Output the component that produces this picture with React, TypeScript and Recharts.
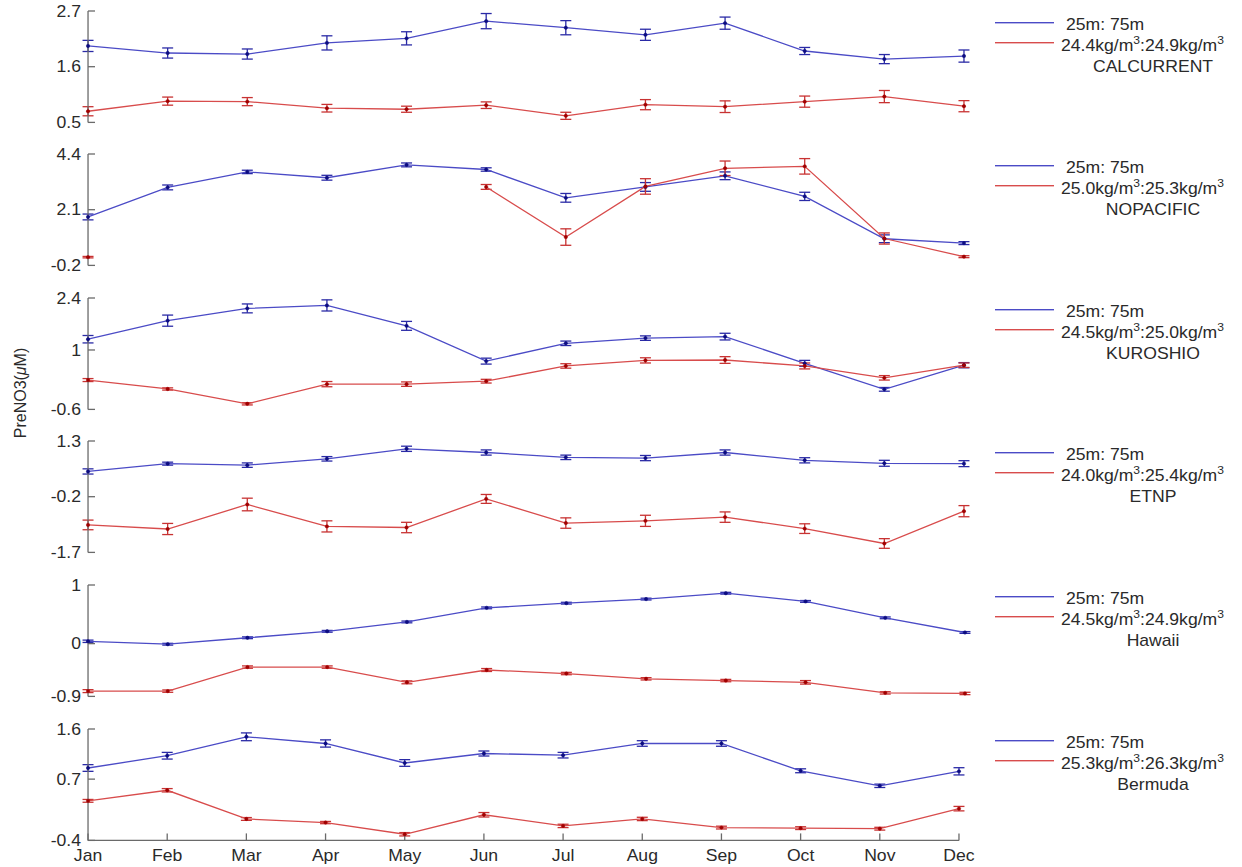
import React from 'react';
import { LineChart, Line, XAxis, YAxis, ErrorBar } from 'recharts';

// ---------- data ----------
const months = ['Jan', 'Feb', 'Mar', 'Apr', 'May', 'Jun', 'Jul', 'Aug', 'Sep', 'Oct', 'Nov', 'Dec'];

const stationNames = ['CALCURRENT', 'NOPACIFIC', 'KUROSHIO', 'ETNP', 'Hawaii', 'Bermuda'];
const depthLabel = '25m: 75m';
const densityRanges = [
  ['24.4', '24.9'],
  ['25.0', '25.3'],
  ['24.5', '25.0'],
  ['24.0', '25.4'],
  ['24.5', '24.9'],
  ['25.3', '26.3'],
];
const yLabel = 'PreNO3(';
const yLabelUnit = 'M)';

const calTicks = [0.5, 1.6, 2.7];
const calBlue = [2.01, 1.87, 1.85, 2.07, 2.16, 2.5, 2.37, 2.23, 2.46, 1.91, 1.75, 1.81];
const calBlueErr = [0.11, 0.1, 0.1, 0.14, 0.13, 0.15, 0.14, 0.11, 0.12, 0.07, 0.09, 0.12];
const calRed = [0.72, 0.92, 0.91, 0.78, 0.76, 0.84, 0.63, 0.85, 0.81, 0.91, 1.01, 0.82];
const calRedErr = [0.09, 0.08, 0.08, 0.075, 0.06, 0.065, 0.07, 0.1, 0.115, 0.11, 0.12, 0.11];

const nopTicks = [-0.2, 2.1, 4.4];
const nopBlue = [1.8, 3.02, 3.66, 3.42, 3.95, 3.76, 2.59, 3.04, 3.5, 2.65, 0.9, 0.72];
const nopBlueErr = [0.12, 0.1, 0.07, 0.1, 0.08, 0.07, 0.18, 0.18, 0.16, 0.17, 0.16, 0.06];
const nopRed = [0.14, null, null, null, null, 3.04, 0.97, 3.06, 3.81, 3.89, 0.91, 0.16];
const nopRedErr = [0.03, null, null, null, null, 0.1, 0.34, 0.32, 0.3, 0.32, 0.23, 0.04];

const kurTicks = [-0.6, 1, 2.4];
const kurBlue = [1.29, 1.79, 2.12, 2.2, 1.65, 0.7, 1.18, 1.32, 1.36, 0.64, -0.06, 0.59];
const kurBlueErr = [0.1, 0.15, 0.12, 0.15, 0.12, 0.08, 0.06, 0.06, 0.09, 0.08, 0.05, 0.07];
const kurRed = [0.19, -0.05, -0.45, 0.08, 0.08, 0.16, 0.57, 0.72, 0.73, 0.57, 0.25, 0.59];
const kurRedErr = [0.04, 0.03, 0.03, 0.07, 0.06, 0.05, 0.06, 0.07, 0.09, 0.08, 0.06, 0.06];

const etnTicks = [-1.7, -0.2, 1.3];
const etnBlue = [0.48, 0.69, 0.65, 0.82, 1.09, 0.99, 0.86, 0.84, 0.99, 0.78, 0.7, 0.69];
const etnBlueErr = [0.07, 0.04, 0.06, 0.06, 0.07, 0.07, 0.06, 0.07, 0.07, 0.07, 0.08, 0.08];
const etnRed = [-0.96, -1.07, -0.41, -1.0, -1.03, -0.26, -0.91, -0.85, -0.75, -1.06, -1.46, -0.59];
const etnRedErr = [0.13, 0.15, 0.17, 0.15, 0.14, 0.12, 0.14, 0.15, 0.14, 0.13, 0.13, 0.15];

const hawTicks = [-0.9, 0, 1];
const hawBlue = [0.04, -0.01, 0.1, 0.21, 0.37, 0.61, 0.69, 0.76, 0.86, 0.72, 0.44, 0.19];
const hawBlueErr = [0.02, 0.015, 0.015, 0.015, 0.015, 0.015, 0.015, 0.015, 0.015, 0.015, 0.015, 0.015];
const hawRed = [-0.81, -0.81, -0.4, -0.4, -0.66, -0.45, -0.51, -0.6, -0.63, -0.66, -0.84, -0.85];
const hawRedErr = [0.025, 0.02, 0.02, 0.02, 0.025, 0.025, 0.02, 0.02, 0.02, 0.03, 0.02, 0.02];

const berTicks = [-0.4, 0.7, 1.6];
const berBlue = [0.9, 1.12, 1.46, 1.34, 0.99, 1.16, 1.13, 1.34, 1.34, 0.85, 0.58, 0.84];
const berBlueErr = [0.06, 0.06, 0.07, 0.065, 0.06, 0.045, 0.05, 0.05, 0.05, 0.035, 0.03, 0.065];
const berRed = [0.31, 0.5, -0.015, -0.08, -0.29, 0.06, -0.14, -0.015, -0.17, -0.18, -0.19, 0.17];
const berRedErr = [0.025, 0.03, 0.025, 0.02, 0.03, 0.04, 0.03, 0.03, 0.025, 0.025, 0.025, 0.04];

// ---------- layout / style ----------
const FONT = '"Liberation Sans", Arial, Helvetica, sans-serif';
const BLUE_LINE = '#4b4bc6';
const BLUE_BAR = '#2a2aa6';
const BLUE_DOT = '#0c0c80';
const RED_LINE = '#d84c4c';
const RED_BAR = '#c83232';
const RED_DOT = '#a00000';
const AXIS = '#6a6a6a';
const TEXT = '#2a2a2a';
const STRETCH = 1.1;

const PLOT_LEFT = 88;
const PLOT_H = 111.4;
const PANEL_TOPS = [10.7, 154.3, 298, 441.4, 584.5, 728.7];
const PLOT_RIGHTS = [964, 964, 964, 964, 965, 959];

const panels = [
  { blue: calBlue, blueErr: calBlueErr, red: calRed, redErr: calRedErr, ticks: calTicks },
  { blue: nopBlue, blueErr: nopBlueErr, red: nopRed, redErr: nopRedErr, ticks: nopTicks },
  { blue: kurBlue, blueErr: kurBlueErr, red: kurRed, redErr: kurRedErr, ticks: kurTicks },
  { blue: etnBlue, blueErr: etnBlueErr, red: etnRed, redErr: etnRedErr, ticks: etnTicks },
  { blue: hawBlue, blueErr: hawBlueErr, red: hawRed, redErr: hawRedErr, ticks: hawTicks },
  { blue: berBlue, blueErr: berBlueErr, red: berRed, redErr: berRedErr, ticks: berTicks },
];

const YTick = (props: any) => {
  const { x, y, payload } = props;
  return (
    <text
      transform={`translate(${x},${y}) scale(${STRETCH},1)`}
      textAnchor="end"
      dy="0.36em"
      fontSize={16}
      fontFamily={FONT}
      fill={TEXT}
    >
      {String(payload.value)}
    </text>
  );
};

const XTick = (props: any) => {
  const { x, y, payload } = props;
  return (
    <text
      transform={`translate(${x},${y}) scale(${STRETCH},1)`}
      textAnchor="middle"
      dy="0.71em"
      fontSize={16}
      fontFamily={FONT}
      fill={TEXT}
    >
      {payload.value}
    </text>
  );
};

function Panel({ index }: { index: number }) {
  const p = panels[index];
  const isLast = index === panels.length - 1;
  const rows = months.map((m, i) => ({
    month: m,
    blue: p.blue[i],
    blueErr: p.blueErr[i],
    red: p.red[i],
    redErr: p.redErr[i],
  }));
  const mTop = 10;
  const mBottom = isLast ? 0 : 10;
  const mRight = 30;
  const xH = isLast ? 30 : 0;
  const height = mTop + PLOT_H + mBottom + xH;
  const width = PLOT_RIGHTS[index] + mRight;
  return (
    <div style={{ position: 'absolute', left: 0, top: PANEL_TOPS[index] - mTop }}>
      <LineChart width={width} height={height} data={rows} margin={{ top: mTop, right: mRight, bottom: mBottom, left: 0 }}>
        <XAxis
          dataKey="month"
          hide={!isLast}
          height={30}
          interval={0}
          tickSize={-7}
          tickMargin={16}
          axisLine={{ stroke: AXIS, strokeWidth: 1.3 }}
          tickLine={{ stroke: AXIS, strokeWidth: 1.3 }}
          tick={<XTick />}
        />
        <YAxis
          type="number"
          width={PLOT_LEFT}
          domain={[p.ticks[0], p.ticks[p.ticks.length - 1]]}
          ticks={p.ticks}
          allowDataOverflow
          interval={0}
          tickSize={-7}
          tickMargin={14}
          axisLine={{ stroke: AXIS, strokeWidth: 1.3 }}
          tickLine={{ stroke: AXIS, strokeWidth: 1.3 }}
          tick={<YTick />}
        />
        <Line
          type="linear"
          dataKey="blue"
          stroke={BLUE_LINE}
          strokeWidth={1.3}
          dot={{ r: 1.7, fill: BLUE_DOT, stroke: BLUE_DOT, strokeWidth: 0.5 }}
          activeDot={false}
          isAnimationActive={false}
        >
          <ErrorBar dataKey="blueErr" direction="y" width={5.5} stroke={BLUE_BAR} strokeWidth={1.3} isAnimationActive={false} />
        </Line>
        <Line
          type="linear"
          dataKey="red"
          stroke={RED_LINE}
          strokeWidth={1.3}
          dot={{ r: 1.7, fill: RED_DOT, stroke: RED_DOT, strokeWidth: 0.5 }}
          activeDot={false}
          isAnimationActive={false}
        >
          <ErrorBar dataKey="redErr" direction="y" width={5.5} stroke={RED_BAR} strokeWidth={1.3} isAnimationActive={false} />
        </Line>
      </LineChart>
    </div>
  );
}

function Overlay() {
  return (
    <svg
      width={1242}
      height={867}
      style={{ position: 'absolute', left: 0, top: 0, pointerEvents: 'none' }}
      fontFamily={FONT}
    >
      <text
        transform="translate(20,393) rotate(-90)"
        textAnchor="middle"
        dominantBaseline="central"
        fontSize={16}
        fill={TEXT}
      >
        {yLabel}
        <tspan fontStyle="italic">μ</tspan>
        {yLabelUnit}
      </text>
      {stationNames.map((name, i) => {
        const T = Math.round(PANEL_TOPS[i]);
        const [d1, d2] = densityRanges[i];
        return (
          <g key={name}>
            <rect x={995} y={T + 11} width={59} height={1.4} fill={BLUE_LINE} />
            <text transform={`translate(1066,${T + 19}) scale(${STRETCH},1)`} fontSize={16} fill={TEXT}>
              {depthLabel}
            </text>
            <rect x={995} y={T + 31} width={59} height={1.4} fill={RED_LINE} />
            <text transform={`translate(1061,${T + 40}) scale(${STRETCH},1)`} fontSize={16} fill={TEXT}>
              {d1 + 'kg/m'}
              <tspan dy={-7} fontSize={11}>3</tspan>
              <tspan dy={7}>{':' + d2 + 'kg/m'}</tspan>
              <tspan dy={-7} fontSize={11}>3</tspan>
            </text>
            <text
              transform={`translate(1153,${T + 61}) scale(${STRETCH},1)`}
              fontSize={16}
              fill={TEXT}
              textAnchor="middle"
            >
              {name}
            </text>
          </g>
        );
      })}
    </svg>
  );
}

export default function App() {
  return (
    <div style={{ position: 'absolute', left: 0, top: 0, width: 1242, height: 867, background: '#ffffff', overflow: 'hidden' }}>
      {panels.map((_, i) => (
        <Panel key={i} index={i} />
      ))}
      <Overlay />
    </div>
  );
}
